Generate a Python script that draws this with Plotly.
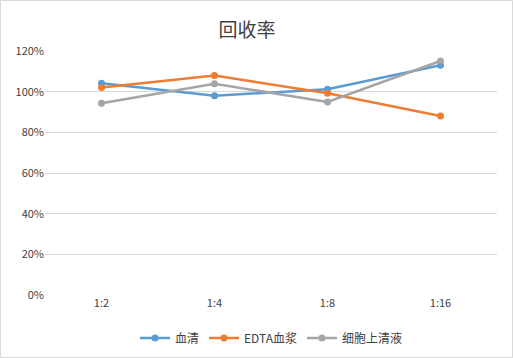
import plotly.graph_objects as go

categories = ["1:2", "1:4", "1:8", "1:16"]
serum = [104.1, 98.0, 101.2, 113.0]
edta_plasma = [102.1, 108.0, 99.2, 88.0]
cell_supernatant = [94.3, 103.9, 94.9, 115.1]
series_names = ["血清", "EDTA血浆", "细胞上清液"]
colors = ["#5B9BD5", "#ED7D31", "#A5A5A5"]
y_ticks = [0, 20, 40, 60, 80, 100, 120]

font = "Noto Sans CJK SC, Liberation Sans, sans-serif"
fig = go.Figure()
for name, vals, c in zip(series_names, [serum, edta_plasma, cell_supernatant], colors):
    fig.add_trace(go.Scatter(
        x=categories, y=vals, name=name, mode="lines+markers",
        line=dict(color=c, width=2.5), marker=dict(color=c, size=7),
    ))

fig.update_layout(
    width=513, height=358,
    margin=dict(l=45, r=16, t=51, b=63, autoexpand=False),
    paper_bgcolor="white", plot_bgcolor="white",
    title=dict(text="回收率", x=247/513, xanchor="center", y=0.915, yanchor="middle",
               font=dict(size=19, color="#404040", family=font)),
    font=dict(family=font, size=11, color="#595959"),
    showlegend=True,
    legend=dict(orientation="h", x=0.5, xanchor="center", y=-43/244, yanchor="middle",
                font=dict(size=12, color="#404040"), itemwidth=30, tracegroupgap=0),
    xaxis=dict(type="category", range=[-0.5, 3.5], showgrid=False, zeroline=False,
               showline=False, ticks="", automargin=False,
               tickfont=dict(size=11, color="#404040")),
    yaxis=dict(range=[0, 120], tickvals=y_ticks, ticktext=[f"{v}%" for v in y_ticks],
               showgrid=True, gridcolor="#D9D9D9", gridwidth=1, zeroline=False,
               showline=False, ticks="", automargin=False,
               tickfont=dict(size=11, color="#404040")),
    shapes=[dict(type="rect", xref="paper", yref="paper", x0=-44.5/452, x1=1+15.5/452,
                 y0=-62.5/244, y1=1+50.5/244, line=dict(color="#D9D9D9", width=1))],
)
fig.write_html("out.html", config={"displayModeBar": False},
               post_script="document.body.style.margin='0';document.body.style.overflow='hidden';")
